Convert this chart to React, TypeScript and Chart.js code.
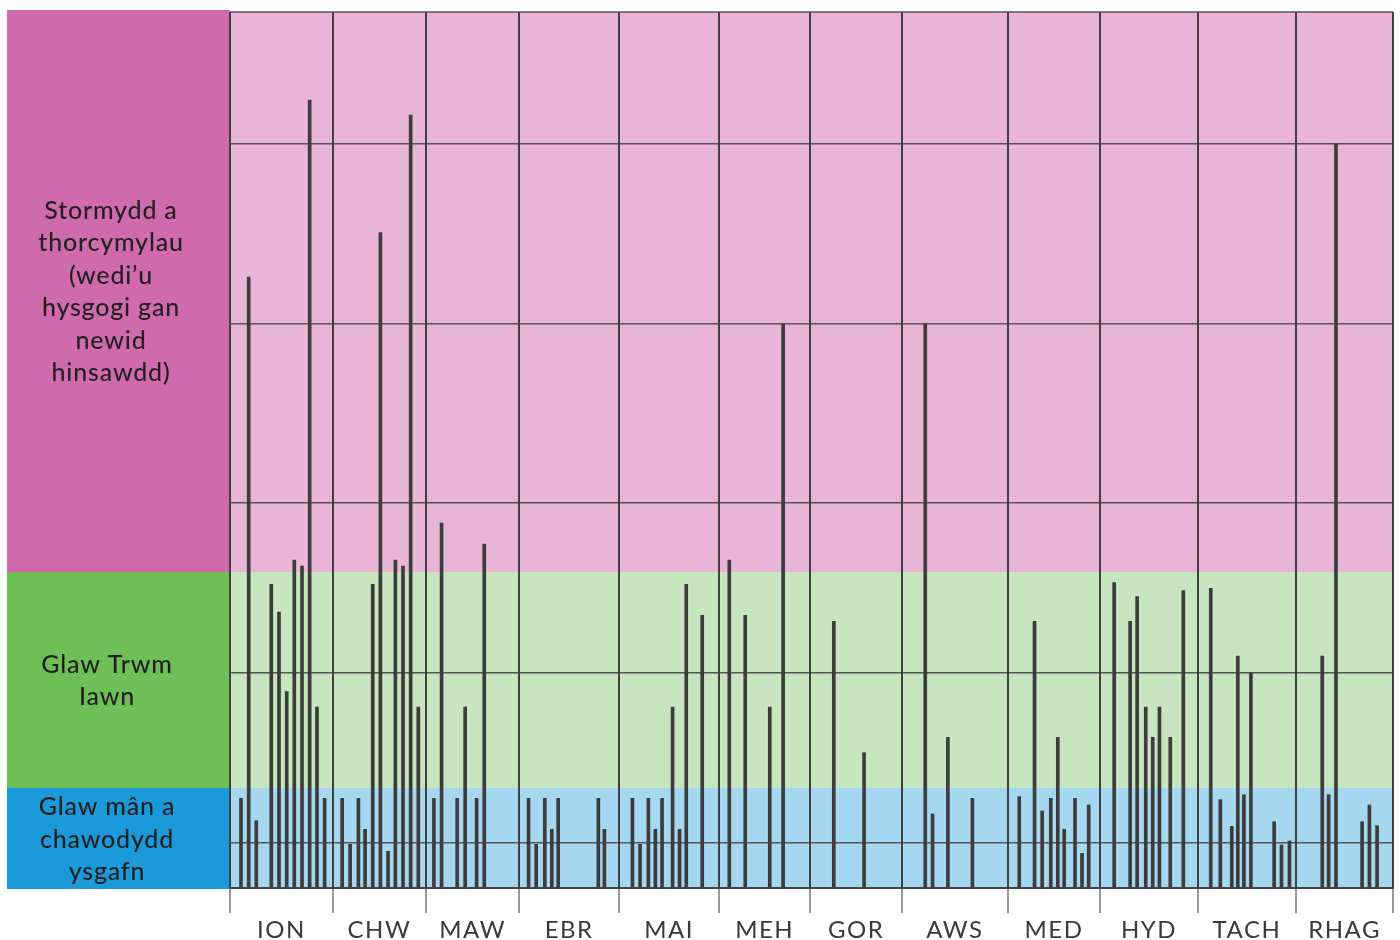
import React, { useEffect, useRef } from "react";
import { Chart, registerables } from "chart.js";

Chart.register(...registerables);

// Month labels (Welsh) and month edges along the year (in days)
const months = ["ION", "CHW", "MAW", "EBR", "MAI", "MEH", "GOR", "AWS", "MED", "HYD", "TACH", "RHAG"];
const monthEdges = [0, 32.3, 61.5, 90.8, 122.1, 153.5, 182.1, 210.9, 244.1, 273.1, 303.7, 334.6, 365];

// Rain events: day of year and intensity
const rainDays = [
  3.45, 5.87, 8.25, 12.96, 15.38, 17.8, 20.18, 22.6, 25.0, 27.3, 29.7,
  35.2, 37.7, 40.3, 42.4, 44.8, 47.2, 49.6, 51.9, 54.3, 56.7, 59.1,
  64.0, 66.4, 71.3, 73.8, 77.4, 79.8,
  93.7, 96.1, 98.8, 101.0, 103.0, 115.6, 117.5,
  126.3, 128.7, 131.3, 133.5, 135.6, 138.9, 141.1, 143.2, 148.2,
  156.7, 161.7, 169.4, 173.6,
  189.5, 199.0,
  218.2, 220.5, 225.3, 233.0,
  247.7, 252.5, 254.9, 257.6, 259.8, 261.8, 265.2, 267.4, 269.5,
  277.5, 282.5, 284.7, 287.4, 289.6, 291.7, 295.1, 299.2,
  307.8, 310.8, 314.4, 316.3, 318.2, 320.4, 327.7, 330.0, 332.5,
  342.8, 344.8, 347.1, 355.3, 357.6, 360.0,
];
const rainValues = [
  89.7, 611, 67.3, 303.7, 276, 196.3, 328, 322, 788, 181, 89.7,
  89.7, 43.7, 89.7, 58.7, 303.7, 655.3, 36.7, 328, 322, 773, 181,
  89.7, 365, 89.7, 181, 89.7, 344,
  89.7, 43.7, 89.7, 58.7, 89.7, 89.7, 58.7,
  89.7, 43.7, 89.7, 58.7, 89.7, 181, 58.7, 303.7, 272.7,
  328, 272.7, 181, 564,
  266.7, 135.3,
  564, 74, 150.7, 89.7,
  91.3, 266.7, 77, 89.7, 150.7, 58.7, 89.7, 34.7, 83,
  305.3, 266.7, 291.3, 181, 150.7, 181, 150.7, 297.3,
  299.7, 88.3, 61.7, 232, 93.3, 215, 66.3, 43, 47,
  232, 93.3, 744, 66.3, 83, 62.3,
];

// Horizontal grid lines, band limits and band labels
const gridValues = [45, 215, 385, 564, 744];
const yMax = 876;
const bandEdges = [0, 100, 316, yMax];
const bandLabels = [
  ["Glaw mân a", "chawodydd", "ysgafn"],
  ["Glaw Trwm", "Iawn"],
  ["Stormydd a", "thorcymylau", "(wedi’u", "hysgogi gan", "newid", "hinsawdd)"],
];

const panelColors = ["#1A9AD9", "#6FBF57", "#CF6BAC"];
const areaColors = ["#A5D8F0", "#C7E6BF", "#E8B5D6"];
const FONT = "Lato, 'Open Sans', sans-serif";

const decorPlugin = {
  id: "decor",
  beforeDraw(chart: any) {
    const { ctx, chartArea, scales } = chart;
    const y = scales.y;
    ctx.save();
    for (let i = 0; i < 3; i++) {
      const top = y.getPixelForValue(bandEdges[i + 1]);
      const bottom = y.getPixelForValue(bandEdges[i]);
      // plot area background
      ctx.fillStyle = areaColors[i];
      ctx.fillRect(chartArea.left, top, chartArea.right - chartArea.left, bottom - top);
      // left panel
      const pTop = i === 2 ? top - 2 : top;
      const pBottom = i === 0 ? bottom + 1 : bottom;
      ctx.fillStyle = panelColors[i];
      ctx.fillRect(7, pTop, chartArea.left - 7, pBottom - pTop);
      // labels
      const lines = bandLabels[i];
      const lh = 32.5;
      const cy = (pTop + pBottom) / 2;
      ctx.fillStyle = "#231f20";
      ctx.font = `500 25px ${FONT}`;
      (ctx as any).letterSpacing = "0.8px";
      ctx.textAlign = "center";
      ctx.textBaseline = "middle";
      lines.forEach((ln, k) => {
        ctx.fillText(ln, i === 2 ? 111 : 107, cy + 1 + (k - (lines.length - 1) / 2) * lh);
      });
    }
    ctx.restore();
    (ctx as any).letterSpacing = "1.5px";
  },
  beforeDatasetsDraw(chart: any) {
    const { ctx, chartArea, scales } = chart;
    (ctx as any).letterSpacing = "0px";
    const x = scales.x;
    ctx.save();
    // month separators
    monthEdges.forEach((e) => {
      const px = Math.round(x.getPixelForValue(e));
      ctx.strokeStyle = "#404040";
      ctx.lineWidth = 2;
      ctx.beginPath();
      ctx.moveTo(px, chartArea.top);
      ctx.lineTo(px, chartArea.bottom);
      ctx.stroke();
      ctx.strokeStyle = "#777";
      ctx.lineWidth = 1.5;
      ctx.beginPath();
      ctx.moveTo(px, chartArea.bottom);
      ctx.lineTo(px, chartArea.bottom + 25);
      ctx.stroke();
    });
    // top border
    ctx.strokeStyle = "#555";
    ctx.lineWidth = 1.5;
    ctx.beginPath();
    ctx.moveTo(chartArea.left, chartArea.top);
    ctx.lineTo(chartArea.right, chartArea.top);
    ctx.stroke();
    ctx.restore();
  },
  afterDatasetsDraw(chart: any) {
    const { ctx, chartArea } = chart;
    ctx.save();
    ctx.strokeStyle = "#444";
    ctx.lineWidth = 2;
    ctx.beginPath();
    ctx.moveTo(chartArea.left, chartArea.bottom);
    ctx.lineTo(chartArea.right + 1, chartArea.bottom);
    ctx.stroke();
    ctx.restore();
  },
};

export default function App() {
  const ref = useRef<HTMLCanvasElement | null>(null);
  useEffect(() => {
    document.body.style.margin = "0";
    if (!ref.current) return;
    const chart = new Chart(ref.current, {
      type: "bar",
      data: {
        datasets: [
          {
            data: rainDays.map((d, i) => ({ x: d, y: rainValues[i] })),
            backgroundColor: "#3c3c3c",
            barThickness: 3,
            borderWidth: 0,
          },
        ],
      },
      options: {
        responsive: false,
        animation: false,
        events: [],
        layout: { padding: { left: 230, right: 7, top: 12, bottom: 0 } },
        plugins: { legend: { display: false }, tooltip: { enabled: false } },
        scales: {
          x: {
            type: "linear",
            offset: false,
            min: 0,
            max: 365,
            grid: { display: false, offset: false },
            border: { display: false },
            afterBuildTicks: (s: any) => {
              s.ticks = months.map((_, i) => ({ value: (monthEdges[i] + monthEdges[i + 1]) / 2 }));
            },
            afterFit: (s: any) => {
              s.height = 52;
              s.paddingLeft = 0;
              s.paddingRight = 0;
            },
            ticks: {
              autoSkip: false,
              maxRotation: 0,
              padding: 20,
              color: "#3a3a3a",
              font: { family: FONT, size: 24 },
              callback: (_v: any, i: number) => months[i],
            },
          },
          y: {
            min: 0,
            max: yMax,
            afterBuildTicks: (s: any) => {
              s.ticks = gridValues.map((v) => ({ value: v }));
            },
            afterFit: (s: any) => {
              s.width = 0;
              s.paddingTop = 0;
              s.paddingBottom = 0;
            },
            ticks: { display: false },
            grid: { color: "#555555", lineWidth: 1.5, drawTicks: false },
            border: { display: false },
          },
        },
      },
      plugins: [decorPlugin],
    });
    return () => chart.destroy();
  }, []);
  return (
    <div style={{ width: 1400, height: 940 }}>
      <canvas ref={ref} width={1400} height={940} style={{ display: "block" }} />
    </div>
  );
}
